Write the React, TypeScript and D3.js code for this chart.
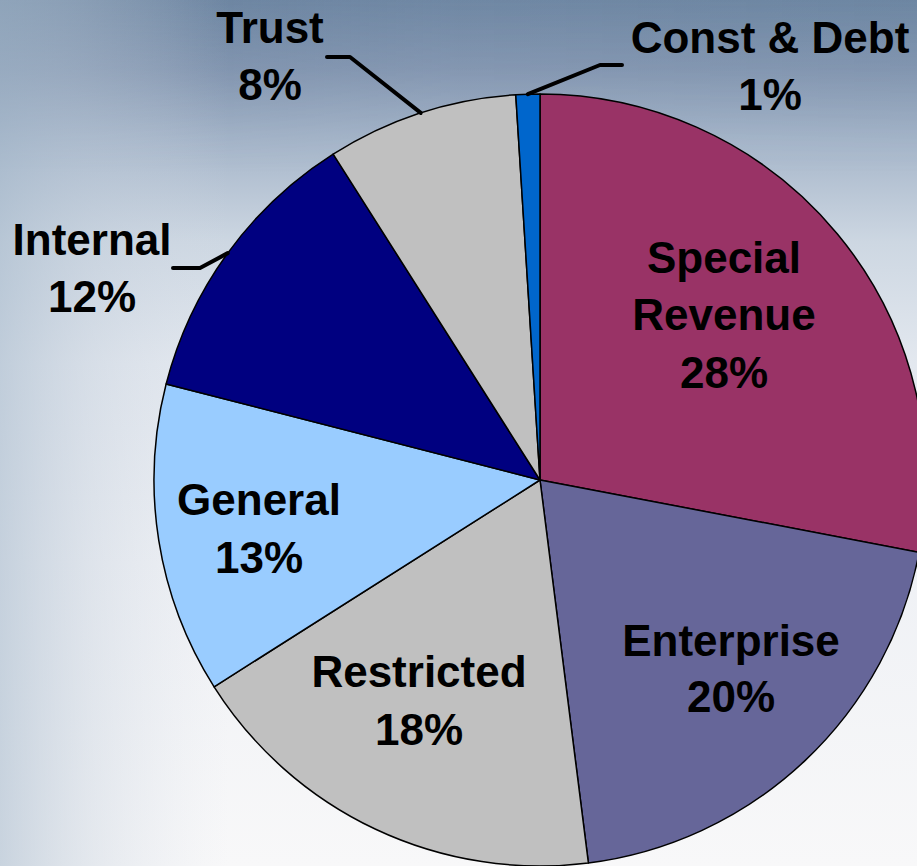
import React from "react";
import * as d3 from "d3";

const categories = ["Special Revenue", "Enterprise", "Restricted", "General", "Internal", "Trust", "Const & Debt"];
const values = [28, 20, 18, 13, 12, 8, 1];
const labelText = ["28%", "20%", "18%", "13%", "12%", "8%", "1%"];
const colors = ["#993366", "#666699", "#C0C0C0", "#99CCFF", "#000080", "#C0C0C0", "#0066CC"];

const W = 917;
const H = 866;
const CX = 540;
const CY = 480;
const R = 386;
const FONT = "'Liberation Sans', Arial, Helvetica, sans-serif";

// label layout: lines of the name, x center, baselines
const layout: Record<string, { x: number; ys: number[]; lines: string[]; leader?: [number, number][] }> = {
  "Special Revenue": { x: 724, ys: [273, 330, 388], lines: ["Special", "Revenue"] },
  Enterprise: { x: 731, ys: [656, 712], lines: ["Enterprise"] },
  Restricted: { x: 419, ys: [687, 745], lines: ["Restricted"] },
  General: { x: 259, ys: [515, 573], lines: ["General"] },
  Internal: { x: 92, ys: [255, 312], lines: ["Internal"], leader: [[173, 268], [200, 268]] },
  Trust: { x: 270, ys: [43, 100], lines: ["Trust"], leader: [[327, 57], [350, 57]] },
  "Const & Debt": { x: 770, ys: [53, 110], lines: ["Const & Debt"], leader: [[622, 65], [600, 65]] },
};

export default function App() {
  const data = categories.map((c, i) => ({ name: c, value: values[i], color: colors[i], pct: labelText[i] }));
  const pie = d3.pie<any>().sort(null).value((d) => d.value).startAngle(0).endAngle(2 * Math.PI);
  const arcs = pie(data);
  const arc = d3.arc<any>().innerRadius(0).outerRadius(R);
  const line = d3.line();

  return (
    <svg
      width={W}
      height={H}
      viewBox={`0 0 ${W} ${H}`}
      style={{ position: "absolute", left: 0, top: 0, display: "block" }}
    >
      <defs>
        <linearGradient id="bgV" x1="0" y1="0" x2="0" y2="1">
          <stop offset="0" stopColor="#6e87a3" />
          <stop offset="0.08" stopColor="#8598b2" />
          <stop offset="0.16" stopColor="#a5b5c9" />
          <stop offset="0.28" stopColor="#cdd7e2" />
          <stop offset="0.42" stopColor="#e3e8ef" />
          <stop offset="0.65" stopColor="#eff1f5" />
          <stop offset="1" stopColor="#f8f8f9" />
        </linearGradient>
        <linearGradient id="bgH" x1="0" y1="0" x2="1" y2="0">
          <stop offset="0" stopColor="#a9bbcd" stopOpacity="0.6" />
          <stop offset="0.1" stopColor="#bfcbd9" stopOpacity="0.35" />
          <stop offset="0.25" stopColor="#d8dee8" stopOpacity="0.0" />
          <stop offset="1" stopColor="#ffffff" stopOpacity="0" />
        </linearGradient>
        <linearGradient id="bgTop" x1="0" y1="0" x2="1" y2="0">
          <stop offset="0" stopColor="#5a7592" stopOpacity="0.3" />
          <stop offset="0.5" stopColor="#7f8fae" stopOpacity="0.1" />
          <stop offset="1" stopColor="#6a84a0" stopOpacity="0.15" />
        </linearGradient>
        <linearGradient id="fadeTop" x1="0" y1="0" x2="0" y2="1">
          <stop offset="0" stopColor="#fff" stopOpacity="1" />
          <stop offset="0.2" stopColor="#fff" stopOpacity="0" />
        </linearGradient>
        <mask id="topMask">
          <rect width={W} height={H} fill="url(#fadeTop)" />
        </mask>
      </defs>
      <rect width={W} height={H} fill="url(#bgV)" />
      <rect width={W} height={H} fill="url(#bgTop)" mask="url(#topMask)" />
      <rect width={W} height={H} fill="url(#bgH)" />

      <g transform={`translate(${CX},${CY})`}>
        {arcs.map((a, i) => (
          <path key={i} d={arc(a) || ""} fill={a.data.color} stroke="#000" strokeWidth={1.5} strokeLinejoin="round" />
        ))}
      </g>

      {arcs.map((a, i) => {
        const L = layout[a.data.name];
        if (!L.leader) return null;
        const mid = (a.startAngle + a.endAngle) / 2;
        const px = CX + R * Math.sin(mid);
        const py = CY - R * Math.cos(mid);
        const pts: [number, number][] = [...L.leader, [px, py]];
        return (
          <path
            key={"l" + i}
            d={line(pts) || ""}
            fill="none"
            stroke="#000"
            strokeWidth={4}
            strokeLinecap="round"
            strokeLinejoin="round"
          />
        );
      })}

      {arcs.map((a, i) => {
        const L = layout[a.data.name];
        const lines = [...L.lines, a.data.pct];
        return (
          <text
            key={"t" + i}
            fontFamily={FONT}
            fontWeight="bold"
            fontSize={44}
            textAnchor="middle"
            fill="#000"
          >
            {lines.map((s, j) => (
              <tspan key={j} x={L.x} y={L.ys[j]}>
                {s}
              </tspan>
            ))}
          </text>
        );
      })}
    </svg>
  );
}
